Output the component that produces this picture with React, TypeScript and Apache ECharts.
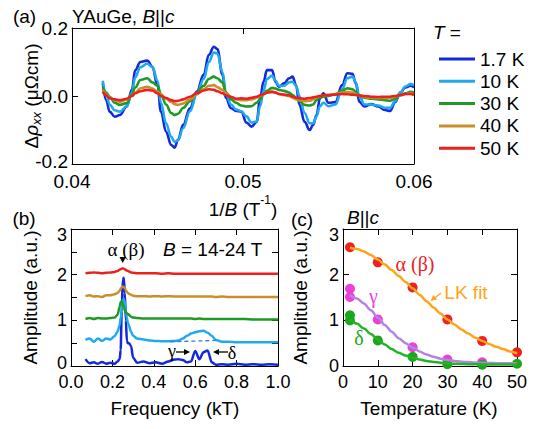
import React, { useEffect, useRef } from 'react';
import * as echarts from 'echarts';

const FONT = '"Liberation Sans", Arial, sans-serif';
const SERIF = '"Liberation Serif", "Times New Roman", serif';

// ---------- colours ----------
const C17 = '#1428dc';
const C10 = '#1ea9f0';
const C30 = '#1f9a26';
const C40 = '#c8902a';
const C50 = '#ee1f1f';

// ---------- panel (a): oscillations vs 1/B ----------
const aX = [
  0.0418, 0.0420, 0.0422, 0.0425, 0.0428, 0.0432, 0.0435, 0.0437, 0.0440, 0.0444,
  0.0447, 0.0450, 0.0452, 0.0455, 0.0458, 0.0460, 0.0462, 0.0465, 0.0469, 0.0473,
  0.0477, 0.0480, 0.0483, 0.0485, 0.0488, 0.0490, 0.0493, 0.0496, 0.0499, 0.0502,
  0.0505, 0.0508, 0.0510, 0.0512, 0.0514, 0.0517, 0.0519, 0.0521, 0.0524, 0.0527,
  0.0529, 0.0531, 0.0533, 0.0536, 0.0539, 0.0541, 0.0543, 0.0545, 0.0547, 0.0550,
  0.0554, 0.0558, 0.0561, 0.0564, 0.0566, 0.0568, 0.0571, 0.0575, 0.0579, 0.0583,
  0.0586, 0.0589, 0.0592, 0.0595, 0.0598, 0.0600,
];
const a17 = [
  0.038, -0.012, -0.046, -0.061, -0.056, -0.031, 0.018, 0.076, 0.100, 0.104,
  0.086, 0.032, -0.046, -0.105, -0.144, -0.152, -0.129, -0.085, -0.036, 0.013,
  0.062, 0.121, 0.145, 0.138, 0.062, -0.005, -0.036, -0.044, -0.046, -0.078,
  -0.090, -0.076, -0.007, 0.042, 0.076, 0.076, 0.042, 0.027, 0.037, 0.052,
  0.057, 0.032, -0.026, -0.076, -0.100, -0.085, -0.056, -0.007, 0.008, -0.020,
  -0.018, 0.032, 0.067, 0.065, 0.037, -0.017, -0.031, -0.024, -0.031, -0.041,
  -0.044, -0.018, 0.010, 0.025, 0.030, 0.025,
];
const a10 = [
  0.045, 0.005, -0.025, -0.042, -0.046, -0.030, 0.010, 0.055, 0.085, 0.095,
  0.085, 0.045, -0.020, -0.080, -0.120, -0.135, -0.130, -0.095, -0.045, 0.005,
  0.050, 0.100, 0.128, 0.125, 0.070, 0.010, -0.025, -0.040, -0.045, -0.060,
  -0.078, -0.075, -0.030, 0.015, 0.050, 0.060, 0.045, 0.030, 0.030, 0.040,
  0.042, 0.030, 0.000, -0.050, -0.080, -0.080, -0.060, -0.030, -0.020, -0.030,
  -0.025, 0.020, 0.052, 0.057, 0.040, 0.000, -0.025, -0.025, -0.028, -0.035,
  -0.035, -0.015, 0.010, 0.028, 0.035, 0.032,
];
const a30 = [
  0.026, 0.010, -0.002, -0.020, -0.026, -0.021, 0.005, 0.025, 0.047, 0.052,
  0.040, 0.030, 0.005, -0.025, -0.050, -0.056, -0.052, -0.035, -0.015, 0.010,
  0.030, 0.050, 0.057, 0.052, 0.040, 0.010, -0.010, -0.020, -0.028, -0.031,
  -0.030, -0.020, -0.010, 0.005, 0.015, 0.024, 0.022, 0.018, 0.015, 0.010,
  0.003, -0.005, -0.015, -0.026, -0.028, -0.025, -0.012, -0.005, -0.002, 0.000,
  0.005, 0.015, 0.023, 0.020, 0.012, 0.000, -0.005, -0.008, -0.010, -0.012,
  -0.014, -0.008, 0.002, 0.008, 0.012, 0.010,
];
const a40 = [
  0.018, 0.005, -0.005, -0.012, -0.017, -0.010, 0.000, 0.010, 0.023, 0.027,
  0.022, 0.013, 0.005, -0.008, -0.017, -0.024, -0.026, -0.022, -0.010, 0.005,
  0.020, 0.030, 0.032, 0.026, 0.018, 0.008, -0.002, -0.010, -0.012, -0.012,
  -0.010, -0.005, 0.000, 0.005, 0.010, 0.013, 0.010, 0.006, 0.003, 0.000,
  -0.005, -0.010, -0.012, -0.015, -0.014, -0.010, -0.005, 0.000, 0.002, 0.003,
  0.006, 0.010, 0.012, 0.010, 0.006, 0.002, -0.003, -0.005, -0.006, -0.006,
  -0.005, -0.002, 0.002, 0.006, 0.008, 0.006,
];
const a50 = [
  0.013, 0.002, -0.007, -0.010, -0.012, -0.008, 0.000, 0.008, 0.014, 0.018,
  0.016, 0.008, 0.000, -0.006, -0.012, -0.015, -0.014, -0.010, -0.002, 0.008,
  0.016, 0.020, 0.018, 0.014, 0.008, 0.002, -0.003, -0.008, -0.007, -0.008,
  -0.005, -0.002, 0.002, 0.006, 0.010, 0.012, 0.010, 0.006, 0.004, 0.002,
  -0.002, -0.005, -0.007, -0.008, -0.006, -0.004, -0.002, 0.000, 0.002, 0.003,
  0.004, 0.006, 0.005, 0.004, 0.003, 0.002, 0.000, -0.002, -0.003, -0.002,
  -0.002, 0.000, 0.003, 0.006, 0.006, 0.003,
];
const tempNames = ['1.7 K', '10 K', '30 K', '40 K', '50 K'];

// ---------- panel (b): FFT spectra (offset) ----------
const fX = [
  0.07, 0.09, 0.11, 0.13, 0.15, 0.17, 0.19, 0.21, 0.225, 0.235,
  0.24, 0.245, 0.25, 0.255, 0.26, 0.265, 0.27, 0.275, 0.28, 0.29,
  0.30, 0.32, 0.35, 0.38, 0.41, 0.44, 0.47, 0.50, 0.52, 0.54,
  0.56, 0.58, 0.60, 0.62, 0.64, 0.66, 0.68, 0.70, 0.73, 0.76,
  0.80, 0.84, 0.88, 0.92, 0.96, 1.00,
];
const f17 = [
  0.15, 0.06, 0.08, 0.05, 0.09, 0.05, 0.07, 0.05, 0.10, 0.15,
  0.35, 1.20, 1.88, 1.93, 1.60, 1.00, 0.55, 0.50, 0.50, 0.44,
  0.18, 0.07, 0.10, 0.06, 0.08, 0.05, 0.10, 0.14, 0.15, 0.13,
  0.08, 0.10, 0.33, 0.15, 0.30, 0.34, 0.08, 0.03, 0.04, 0.03,
  0.05, 0.03, 0.04, 0.03, 0.04, 0.03,
];
const f10 = [
  0.57, 0.60, 0.53, 0.60, 0.55, 0.60, 0.58, 0.65, 0.75, 0.90,
  1.05, 1.25, 1.42, 1.47, 1.40, 1.20, 1.05, 0.95, 0.88, 0.75,
  0.66, 0.60, 0.58, 0.56, 0.55, 0.54, 0.54, 0.55, 0.56, 0.60,
  0.66, 0.71, 0.74, 0.76, 0.77, 0.73, 0.66, 0.57, 0.53, 0.53,
  0.52, 0.52, 0.52, 0.52, 0.52, 0.52,
];
const f30 = [
  1.03, 1.05, 1.03, 1.05, 1.04, 1.04, 1.05, 1.06, 1.12, 1.30,
  1.40, 1.41, 1.36, 1.28, 1.22, 1.18, 1.15, 1.14, 1.12, 1.08,
  1.06, 1.05, 1.04, 1.04, 1.04, 1.04, 1.04, 1.04, 1.04, 1.04,
  1.04, 1.04, 1.03, 1.04, 1.03, 1.03, 1.03, 1.03, 1.03, 1.03,
  1.03, 1.03, 1.02, 1.02, 1.02, 1.02,
];
const f40 = [
  1.53, 1.55, 1.52, 1.53, 1.51, 1.55, 1.55, 1.57, 1.60, 1.65,
  1.69, 1.72, 1.74, 1.73, 1.70, 1.66, 1.62, 1.60, 1.58, 1.56,
  1.54, 1.53, 1.53, 1.52, 1.53, 1.52, 1.53, 1.52, 1.52, 1.52,
  1.52, 1.52, 1.52, 1.52, 1.52, 1.52, 1.52, 1.51, 1.52, 1.51,
  1.51, 1.51, 1.51, 1.51, 1.51, 1.51,
];
const f50 = [
  2.03, 2.04, 2.05, 2.04, 2.03, 2.04, 2.05, 2.06, 2.08, 2.11,
  2.12, 2.13, 2.14, 2.13, 2.12, 2.10, 2.09, 2.08, 2.07, 2.05,
  2.04, 2.03, 2.03, 2.03, 2.03, 2.02, 2.03, 2.02, 2.02, 2.02,
  2.02, 2.02, 2.02, 2.02, 2.02, 2.02, 2.02, 2.02, 2.02, 2.02,
  2.02, 2.02, 2.02, 2.02, 2.02, 2.02,
];
const dashX = [0.48, 0.70];
const dashY = [0.53, 0.56];

// ---------- panel (c): amplitude vs temperature ----------
const alphaT = [2, 10, 20, 30, 40, 50];
const alphaA = [2.60, 2.27, 1.72, 1.02, 0.55, 0.30];
const gammaT = [2, 2, 10, 20, 30, 40];
const gammaA = [1.69, 1.51, 1.02, 0.41, 0.14, 0.08];
const deltaT = [2, 2, 10, 20, 30, 40, 50];
const deltaA = [1.11, 1.00, 0.56, 0.20, 0.04, 0.03, 0.05];
const fitT = [2, 4, 6, 8, 10, 12, 14, 16, 18, 20, 22, 24, 26, 28, 30, 32, 34, 36, 38, 40, 42, 44, 46, 48, 50];
const fitAlpha = [2.59, 2.56, 2.51, 2.43, 2.33, 2.22, 2.10, 1.97, 1.84, 1.70, 1.56, 1.42, 1.28, 1.15, 1.02, 0.91, 0.80, 0.71, 0.62, 0.55, 0.48, 0.42, 0.37, 0.32, 0.28];
const fitGamma = [1.55, 1.48, 1.37, 1.22, 1.06, 0.90, 0.75, 0.61, 0.50, 0.40, 0.32, 0.25, 0.20, 0.16, 0.13, 0.11, 0.095, 0.085, 0.075, 0.07, 0.065, 0.062, 0.06, 0.058, 0.057];
const fitDelta = [1.02, 0.93, 0.82, 0.70, 0.58, 0.47, 0.37, 0.29, 0.23, 0.18, 0.14, 0.11, 0.09, 0.07, 0.06, 0.05, 0.045, 0.04, 0.04, 0.035, 0.035, 0.035, 0.035, 0.035, 0.035];

const zip = (xs: number[], ys: number[]) => xs.map((x, i) => [x, ys[i]]);

function xAx(grid: number, pos: string, min: number, max: number, interval: number, labels: boolean, fmt: any, fs: number, margin = 7) {
  return {
    type: 'value', gridIndex: grid, position: pos, min, max, interval,
    axisLine: { show: true, onZero: false, lineStyle: { color: '#000', width: 1 } },
    axisTick: { show: true, inside: true, length: 6, lineStyle: { color: '#000', width: 1 } },
    axisLabel: { show: labels, margin, fontSize: fs, lineHeight: 15, fontFamily: FONT, color: '#000', formatter: fmt, showMinLabel: true, showMaxLabel: true },
    splitLine: { show: false },
  };
}
function yAx(grid: number, pos: string, min: number, max: number, interval: number, labels: boolean, fmt: any, fs: number, ticks = true, rich: any = undefined) {
  return {
    type: 'value', gridIndex: grid, position: pos, min, max, interval,
    axisLine: { show: true, onZero: false, lineStyle: { color: '#000', width: 1 } },
    axisTick: { show: ticks, inside: true, length: 6, lineStyle: { color: '#000', width: 1 } },
    axisLabel: { show: labels, margin: 4, fontSize: fs, lineHeight: 15, fontFamily: FONT, color: '#000', formatter: fmt, showMinLabel: true, showMaxLabel: true, rich },
    splitLine: { show: false },
  };
}

const txt = (x: number, y: number, text: string, opts: any = {}, rotation = 0) => ({
  type: 'text', x, y, rotation, z: 100,
  style: {
    text, fontSize: 19, fontFamily: FONT, fill: '#000',
    align: 'center', verticalAlign: 'middle', textAlign: 'center', textVerticalAlign: 'middle',
    ...opts,
  },
});
const seg = (x1: number, y1: number, x2: number, y2: number, color = '#000') => ({
  type: 'line', z: 100, shape: { x1, y1, x2, y2 }, style: { stroke: color, lineWidth: 1.3 },
});
const tri = (pts: number[][], color = '#000') => ({
  type: 'polygon', z: 100, shape: { points: pts }, style: { fill: color },
});

function lineSeries(name: string, xi: number, yi: number, data: number[][], color: string, width = 2.5, extra: any = {}) {
  return {
    name, type: 'line', xAxisIndex: xi, yAxisIndex: yi, data, color,
    showSymbol: false, symbol: 'none', smooth: 0.3, smoothMonotone: 'x',
    lineStyle: { color, width }, emphasis: { disabled: true }, silent: true,
    ...extra,
  };
}
function dotSeries(name: string, data: number[][], color: string) {
  return {
    name, type: 'scatter', xAxisIndex: 4, yAxisIndex: 4, data, color,
    symbol: 'circle', symbolSize: 10, itemStyle: { color, opacity: 1 }, silent: true,
  };
}

const richA = { b: { padding: [0, 0, 6, 0], fontSize: 19, lineHeight: 15, fontFamily: FONT, color: '#000' } };
const richB = {
  t: { padding: [12, 0, 0, 0], fontSize: 18, lineHeight: 15, fontFamily: FONT, color: '#000' },
  b: { padding: [0, 0, 6, 0], fontSize: 18, lineHeight: 15, fontFamily: FONT, color: '#000' },
};
const fmtA = (v: number) => (v < -0.1 ? '{b|' + v.toFixed(1) + '}' : v.toFixed(1));
const fmtB = (v: number) => {
  if (Math.abs(v - Math.round(v)) > 1e-9) return '';
  const r = Math.round(v);
  if (r === 3) return '{t|3}';
  if (r === 0) return '{b|0}';
  return String(r);
};
const fmtC = (v: number) => (v === 3 ? '{t|3}' : String(v));

const aColors = [C17, C10, C30, C40, C50];
const aData = [a17, a10, a30, a40, a50];
const fData = [f17, f10, f30, f40, f50];

const option: any = {
  animation: false,
  backgroundColor: '#fff',
  grid: [
    { left: 72, top: 28, width: 342, height: 136 },
    { left: 71, top: 229, width: 207, height: 137 },
    { left: 343, top: 229, width: 174, height: 137 },
  ],
  xAxis: [
    xAx(0, 'bottom', 0.04, 0.06, 0.01, true, (v: number) => v.toFixed(2), 19, 9.5),
    xAx(0, 'top', 0.04, 0.06, 0.01, false, null, 19),
    xAx(1, 'bottom', 0, 1, 0.2, true, (v: number) => v.toFixed(1), 18, 8.5),
    xAx(1, 'top', 0, 1, 0.2, false, null, 18),
    xAx(2, 'bottom', 0, 50, 10, true, (v: number) => String(v), 18, 8),
    xAx(2, 'top', 0, 50, 10, false, null, 18),
  ],
  yAxis: [
    yAx(0, 'left', -0.2, 0.2, 0.2, true, fmtA, 19, true, richA),
    yAx(0, 'right', -0.2, 0.2, 0.2, false, null, 19, false),
    yAx(1, 'left', 0, 3, 0.5, true, fmtB, 18, true, richB),
    yAx(1, 'right', 0, 3, 0.5, false, null, 18),
    yAx(2, 'left', 0, 3, 1, true, fmtC, 18, true, richB),
    yAx(2, 'right', 0, 3, 1, false, null, 18),
  ],
  legend: {
    data: tempNames, orient: 'vertical', left: 434, top: 44,
    itemWidth: 36, itemHeight: 3, itemGap: 2.3, icon: 'rect', selectedMode: false,
    textStyle: { fontSize: 19, fontFamily: FONT, color: '#000', lineHeight: 20 },
  },
  series: [
    ...tempNames.map((n, i) => lineSeries(n, 0, 0, zip(aX, aData[i]), aColors[i], 2.6, { smooth: 0.4 })),
    ...tempNames.map((n, i) => lineSeries('FFT ' + n, 2, 2, zip(fX, fData[i]), aColors[i], 2.5)),
    lineSeries('baseline', 2, 2, zip(dashX, dashY), '#3a78e6', 1.3, { smooth: false, lineStyle: { color: '#3a78e6', width: 1.3, type: [4, 3] } }),
    dotSeries('alpha', zip(alphaT, alphaA), '#ee2020'),
    dotSeries('gamma', zip(gammaT, gammaA), '#ee3fd8'),
    dotSeries('delta', zip(deltaT, deltaA), '#1ea51e'),
    lineSeries('fit alpha', 4, 4, zip(fitT, fitAlpha), '#ffa31a', 2.5),
    lineSeries('fit gamma', 4, 4, zip(fitT, fitGamma), '#b284e6', 2.5),
    lineSeries('fit delta', 4, 4, zip(fitT, fitDelta), '#22b422', 2.5),
  ],
  graphic: [
    // panel (a)
    txt(24.5, 16.5, '(a)'),
    txt(72, 16, 'YAuGe, {i|B}||{i|c}', { align: 'left', textAlign: 'left', rich: { i: { fontStyle: 'italic', fontSize: 19, fontFamily: FONT, fill: '#000' } } }),
    txt(433, 32, '{i|T} =', { align: 'left', textAlign: 'left', rich: { i: { fontStyle: 'italic', fontSize: 19, fontFamily: FONT, fill: '#000' } } }),
    txt(31, 96, '{n|Δ}{i|ρ}{s|xx}{n| (μΩcm)}', {
      rich: {
        n: { fontSize: 19, fontFamily: FONT, fill: '#000', lineHeight: 24 },
        i: { fontSize: 19, fontFamily: FONT, fontStyle: 'italic', fill: '#000', lineHeight: 24 },
        s: { fontSize: 13, fontFamily: FONT, fontStyle: 'italic', fill: '#000', lineHeight: 13, verticalAlign: 'bottom' },
      },
    }, Math.PI / 2),
    txt(243, 209, '{n|1/}{i|B}{n| (T}{p|-1}{n|)}', {
      rich: {
        n: { fontSize: 19, fontFamily: FONT, fill: '#000', lineHeight: 30 },
        i: { fontSize: 19, fontFamily: FONT, fontStyle: 'italic', fill: '#000', lineHeight: 30 },
        p: { fontSize: 12, fontFamily: FONT, fill: '#000', lineHeight: 12, verticalAlign: 'top' },
      },
    }),
    // panel (b)
    txt(24, 218.5, '(b)'),
    txt(30, 297.5, 'Amplitude (a.u.)', {}, Math.PI / 2),
    txt(175, 408, 'Frequency (kT)'),
    txt(126, 249, 'α (β)', { fontFamily: SERIF, fontSize: 19 }),
    tri([[119.5, 257], [126, 257], [122.7, 263]]),
    txt(163, 249, '{i|B} = 14-24 T', { align: 'left', textAlign: 'left', rich: { i: { fontStyle: 'italic', fontSize: 19, fontFamily: FONT, fill: '#000' } } }),
    txt(172, 351, 'γ', { fontFamily: SERIF, fontSize: 18 }),
    seg(176, 352, 186, 352),
    tri([[190, 352], [184, 349], [184, 355]]),
    txt(232, 353, 'δ', { fontFamily: SERIF, fontSize: 18 }),
    seg(228, 352, 217, 352),
    tri([[213, 352], [219, 349], [219, 355]]),
    // panel (c)
    txt(302, 219, '(c)'),
    txt(347, 217, '{i|B}||{i|c}', { align: 'left', textAlign: 'left', rich: { i: { fontStyle: 'italic', fontSize: 19, fontFamily: FONT, fill: '#000' } } }),
    txt(300.5, 297.5, 'Amplitude (a.u.)', {}, Math.PI / 2),
    txt(429, 408, 'Temperature (K)'),
    txt(415, 263.5, 'α (β)', { fontFamily: SERIF, fontSize: 20, fill: '#ee2020' }),
    txt(373.5, 296, 'γ', { fontFamily: SERIF, fontSize: 20, fill: '#ee3fd8' }),
    txt(359, 338, 'δ', { fontFamily: SERIF, fontSize: 20, fill: '#1ea51e' }),
    txt(466, 292, 'LK fit', { fill: '#ffa31a' }),
    seg(441, 293, 434, 298.5, '#ffa31a'),
    tri([[430.5, 301], [437.1, 299.6], [433.3, 294.9]], '#ffa31a'),
  ],
};

export default function App() {
  const ref = useRef<HTMLDivElement>(null);
  useEffect(() => {
    if (!ref.current) return;
    const chart = echarts.init(ref.current, undefined, { renderer: 'svg', width: 538, height: 429 });
    chart.setOption(option);
    return () => chart.dispose();
  }, []);
  return (
    <div
      ref={ref}
      style={{ position: 'absolute', left: 0, top: 0, width: 538, height: 429, background: '#fff' }}
    />
  );
}
